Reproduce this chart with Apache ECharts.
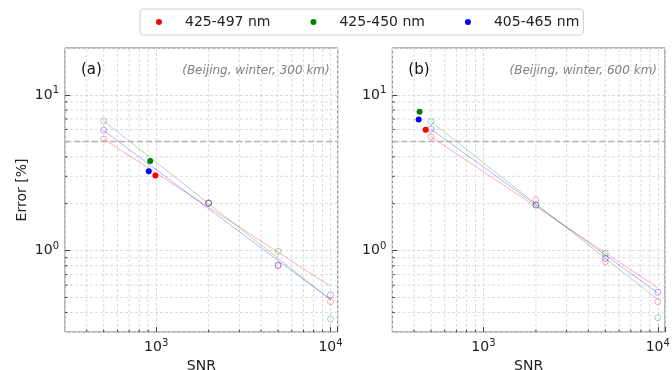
<!DOCTYPE html>
<html>
<head>
<meta charset="utf-8">
<script src="https://cdn.jsdelivr.net/npm/echarts@6/dist/echarts.min.js"></script>
<style>
  html, body { margin: 0; padding: 0; background: #fff; }
  #chart { width: 672px; height: 370px; }
</style>
</head>
<body>
<div id="chart"></div>
<script>
// Spectral bands shown in the legend
const bandNames = ['425-497 nm', '425-450 nm', '405-465 nm'];
const bandColors = ['#ff0000', '#008000', '#0000ff'];

// Simulated SNR levels (hollow markers)
const snrSim = [500, 2000, 5000, 10000];
// End points of the fitted power-law lines
const snrFit = [500, 10000];

// Beijing, winter, 300 km
const obsSnr300 = [990, 924, 907];
const obsErr300 = [3.03, 3.76, 3.23];
const simErr300Red = [5.2, 2.02, 0.80, 0.47];
const simErr300Green = [6.8, 2.02, 0.99, 0.363];
const simErr300Blue = [5.94, 2.02, 0.805, 0.52];
const fitErr300Red = [5.2, 0.59];
const fitErr300Green = [6.8, 0.485];
const fitErr300Blue = [5.9, 0.485];

// Beijing, winter, 600 km
const obsSnr600 = [466, 430, 425];
const obsErr600 = [5.97, 7.78, 6.95];
const simErr600Red = [5.38, 2.12, 0.85, 0.47];
const simErr600Green = [6.74, 1.96, 0.96, 0.37];
const simErr600Blue = [6.03, 1.96, 0.89, 0.54];
const fitErr600Red = [5.38, 0.577];
const fitErr600Green = [6.74, 0.485];
const fitErr600Blue = [6.03, 0.535];

// Error threshold (%)
const errThreshold = 5;

// Axis ranges and minor grid positions
const xRange = [300, 11000];
const yRange = [0.3, 20];
const xMinor = [400, 500, 600, 700, 800, 900, 2000, 3000, 4000, 5000, 6000, 7000, 8000, 9000];
const yMinor = [0.4, 0.5, 0.6, 0.7, 0.8, 0.9, 2, 3, 4, 5, 6, 7, 8, 9];

const panelLabels = ['(a)', '(b)'];
const panelNotes = ['(Beijing, winter, 300 km)', '(Beijing, winter, 600 km)'];

const FONT = 'DejaVu Sans';
const gridBoxes = [
  { left: 65, top: 48, width: 272.7, height: 284 },
  { left: 392.3, top: 48, width: 272.7, height: 284 }
];

const pow10Label = v => {
  const l = Math.log10(v);
  const e = Math.round(l);
  return Math.abs(l - e) < 1e-6 ? '10{s|' + e + '}' : '';
};
const labelRich = {
  s: { fontSize: 10, fontFamily: FONT, color: '#222', verticalAlign: 'bottom', padding: [0, 0, 8, 0] }
};

// Hex colour to rgba string with the given alpha
const fade = (hex, a) => {
  const n = parseInt(hex.slice(1), 16);
  return 'rgba(' + (n >> 16 & 255) + ',' + (n >> 8 & 255) + ',' + (n & 255) + ',' + a + ')';
};

function xAxisFor(i) {
  return {
    type: 'log', logBase: 10, gridIndex: i, min: xRange[0], max: xRange[1],
    axisLine: { show: false },
    axisTick: { show: true, inside: true, length: 5, lineStyle: { color: '#444' } },
    splitLine: { show: true, lineStyle: { color: '#dcdcdc', type: [3, 2], width: 1 } },
    axisLabel: { formatter: pow10Label, rich: labelRich, fontFamily: FONT, fontSize: 14, color: '#222', margin: 6, showMinLabel: false, showMaxLabel: true },
    name: 'SNR', nameLocation: 'middle', nameGap: 20,
    nameTextStyle: { fontFamily: FONT, fontSize: 14, color: '#222' }
  };
}
function yAxisFor(i) {
  return {
    type: 'log', logBase: 10, gridIndex: i, min: yRange[0], max: yRange[1],
    axisLine: { show: false },
    axisTick: { show: true, inside: true, length: 5, lineStyle: { color: '#444' } },
    splitLine: { show: true, lineStyle: { color: '#dcdcdc', type: [3, 2], width: 1 } },
    axisLabel: { formatter: pow10Label, rich: labelRich, fontFamily: FONT, fontSize: 14, color: '#222', margin: 6, showMinLabel: false, showMaxLabel: false },
    name: i === 0 ? 'Error [%]' : '', nameLocation: 'middle', nameGap: 36, nameRotate: 90,
    nameTextStyle: { fontFamily: FONT, fontSize: 14, color: '#222' }
  };
}

// Minor grid lines and inward minor ticks drawn through the axis scales
function minorSeries(i) {
  const xs = xMinor.map(x => [x, yRange[0]]);
  const ys = yMinor.map(y => [xRange[0], y]);
  const dash = { stroke: '#dcdcdc', lineWidth: 1, lineDash: [3, 2] };
  const tick = { stroke: '#444', lineWidth: 1 };
  return [
    {
      type: 'custom', xAxisIndex: i, yAxisIndex: i, silent: true, z: 1, data: xs,
      renderItem: (params, api) => {
        const b = api.coord([api.value(0), yRange[0]]);
        const t = api.coord([api.value(0), yRange[1]]);
        return { type: 'group', children: [
          { type: 'line', shape: { x1: b[0], y1: b[1], x2: t[0], y2: t[1] }, style: dash },
          { type: 'line', shape: { x1: b[0], y1: b[1], x2: b[0], y2: b[1] - 2.5 }, style: tick }
        ] };
      }
    },
    {
      type: 'custom', xAxisIndex: i, yAxisIndex: i, silent: true, z: 1, data: ys,
      renderItem: (params, api) => {
        const l = api.coord([xRange[0], api.value(1)]);
        const r = api.coord([xRange[1], api.value(1)]);
        return { type: 'group', children: [
          { type: 'line', shape: { x1: l[0], y1: l[1], x2: r[0], y2: r[1] }, style: dash },
          { type: 'line', shape: { x1: l[0], y1: l[1], x2: l[0] + 2.5, y2: l[1] }, style: tick }
        ] };
      }
    }
  ];
}

function panelSeries(i, obsSnr, obsErr, sims, fits) {
  const out = [];
  bandNames.forEach((name, k) => {
    out.push({
      name: name, type: 'scatter', xAxisIndex: i, yAxisIndex: i, z: 6,
      symbol: 'circle', symbolSize: 6,
      itemStyle: { color: bandColors[k], opacity: 1 },
      data: [[obsSnr[k], obsErr[k]]]
    });
  });
  bandNames.forEach((name, k) => {
    out.push({
      name: name + ' fit', type: 'line', xAxisIndex: i, yAxisIndex: i, z: 3,
      showSymbol: false, symbol: 'none',
      lineStyle: { color: bandColors[k], width: 1, opacity: 0.3 },
      data: snrFit.map((s, j) => [s, fits[k][j]]),
      markLine: k === 0 ? {
        silent: true, symbol: 'none', label: { show: false },
        lineStyle: { color: '#b4b4b4', type: [6, 3], width: 1.3, opacity: 1 },
        data: [{ yAxis: errThreshold }]
      } : undefined
    });
    out.push({
      name: name + ' sim', type: 'scatter', xAxisIndex: i, yAxisIndex: i, z: 4,
      symbol: 'circle', symbolSize: 6,
      itemStyle: { color: 'rgba(255,255,255,0)', borderColor: fade(bandColors[k], 0.33), borderWidth: 1, opacity: 1 },
      data: snrSim.map((s, j) => [s, sims[k][j]])
    });
  });
  return out;
}

const chart = echarts.init(document.getElementById('chart'), null, { renderer: 'canvas' });

const graphics = [];
gridBoxes.forEach((g, i) => {
  graphics.push({
    type: 'text', left: g.left + 16, top: 63, z: 10,
    style: { text: panelLabels[i], font: '15px "DejaVu Sans"', fill: '#111' }
  });
  graphics.push({
    type: 'text', right: 672 - (g.left + g.width - 8), top: 65, z: 10,
    style: { text: panelNotes[i], font: 'italic 12px "DejaVu Sans"', fill: '#808080' }
  });
});

chart.setOption({
  animation: false,
  backgroundColor: '#fff',
  textStyle: { fontFamily: FONT },
  legend: {
    data: bandNames, left: 140, top: 9, icon: 'circle', itemWidth: 12, itemHeight: 6, itemGap: 40,
    padding: [6, 4, 6, 16], borderColor: '#d0d0d0', borderWidth: 1, borderRadius: 3,
    selectedMode: false,
    formatter: n => '{p|' + n + '}',
    textStyle: { fontFamily: FONT, fontSize: 14, color: '#222',
      rich: { p: { fontFamily: FONT, fontSize: 14, color: '#222', padding: [0, 0, 0, 15] } } }
  },
  grid: gridBoxes.map(g => Object.assign({ show: true, borderColor: '#707070', borderWidth: 1, containLabel: false, outerBoundsMode: 'none' }, g)),
  xAxis: [xAxisFor(0), xAxisFor(1)],
  yAxis: [yAxisFor(0), yAxisFor(1)],
  graphic: graphics,
  series: [].concat(
    panelSeries(0, obsSnr300, obsErr300, [simErr300Red, simErr300Green, simErr300Blue], [fitErr300Red, fitErr300Green, fitErr300Blue]),
    panelSeries(1, obsSnr600, obsErr600, [simErr600Red, simErr600Green, simErr600Blue], [fitErr600Red, fitErr600Green, fitErr600Blue]),
    minorSeries(0), minorSeries(1)
  )
});
</script>
</body>
</html>
